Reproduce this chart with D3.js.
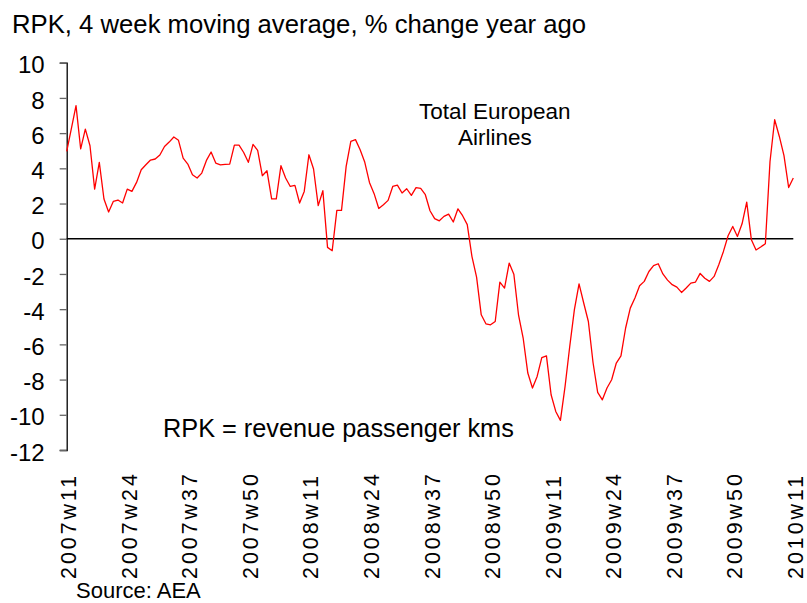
<!DOCTYPE html>
<html>
<head>
<meta charset="utf-8">
<script src="https://cdn.jsdelivr.net/npm/d3@7"></script>
<style>
  html, body { margin: 0; padding: 0; background: #ffffff; }
  svg { display: block; font-family: "Liberation Sans", Arial, sans-serif; }
</style>
</head>
<body>
<svg id="chart" width="807" height="603"></svg>
<script>
// ---- data ----
const startYear = 2007, startWeek = 11, weeksPerYear = 52;
const rpkChange = [
  4.96, 6.26, 7.56, 5.10, 6.23, 5.28, 2.82, 4.34, 2.26, 1.52,
  2.12, 2.20, 2.03, 2.82, 2.69, 3.20, 3.92, 4.20, 4.47, 4.53,
  4.76, 5.24, 5.49, 5.78, 5.59, 4.58, 4.24, 3.64, 3.45, 3.73,
  4.45, 4.93, 4.30, 4.20, 4.22, 4.24, 5.32, 5.32, 4.90, 4.34,
  5.36, 5.02, 3.58, 3.86, 2.26, 2.26, 4.15, 3.45, 2.97, 3.03,
  2.03, 2.69, 4.77, 3.96, 1.88, 2.73, -0.49, -0.68, 1.61, 1.61,
  4.11, 5.53, 5.63, 5.06, 4.34, 3.20, 2.56, 1.72, 1.93, 2.18,
  2.97, 3.05, 2.60, 2.84, 2.46, 2.90, 2.86, 2.50, 1.59, 1.14,
  1.02, 1.27, 1.40, 0.95, 1.70, 1.31, 0.80, -1.00, -2.18, -4.32,
  -4.83, -4.89, -4.70, -2.46, -2.80, -1.38, -2.01, -4.32, -5.64, -7.63,
  -8.48, -7.82, -6.75, -6.65, -8.86, -9.81, -10.32, -8.39, -6.12, -4.03,
  -2.56, -3.65, -4.70, -7.03, -8.73, -9.15, -8.48, -8.01, -7.06, -6.65,
  -5.07, -3.94, -3.37, -2.67, -2.42, -1.86, -1.53, -1.42, -2.00, -2.35,
  -2.61, -2.75, -3.05, -2.80, -2.52, -2.46, -1.97, -2.24, -2.42, -2.14,
  -1.48, -0.72, 0.17, 0.70, 0.13, 0.85, 2.08, -0.06, -0.64, -0.47,
  -0.28, 4.39, 6.76, 5.81, 4.72, 2.91, 3.45
];
// weekly category labels (year + "w" + week number)
const weeks = rpkChange.map((_, i) => {
  const w0 = startWeek - 1 + i;
  return (startYear + Math.floor(w0 / weeksPerYear)) + "w" + (w0 % weeksPerYear + 1);
});
const xTickLabels = ["2007w11","2007w24","2007w37","2007w50","2008w11","2008w24",
  "2008w37","2008w50","2009w11","2009w24","2009w37","2009w50","2010w11"];
const yTicks = [-12, -10, -8, -6, -4, -2, 0, 2, 4, 6, 8, 10];

const titleText = "RPK, 4 week moving average, % change year ago";
const seriesLabel = ["Total European", "Airlines"];
const noteText = "RPK = revenue passenger kms";
const sourceText = "Source: AEA";

// ---- layout ----
const svg = d3.select("#chart");
const plotLeft = 66.7, plotRight = 793.3, plotTop = 62.7, plotBottom = 450;

const x = d3.scalePoint().domain(weeks).range([plotLeft, plotRight]).padding(0);
const y = d3.scaleLinear().domain([-12, 10]).range([plotBottom, plotTop]);

svg.append("rect").attr("width", 807).attr("height", 603).attr("fill", "#fff");

// title
svg.append("text").attr("x", 12).attr("y", 33)
  .attr("font-size", 25.7).attr("fill", "#000").text(titleText);

// y axis
const yAxis = d3.axisLeft(y).tickValues(yTicks).tickSize(7).tickPadding(15)
  .tickFormat(d => String(d));
const yg = svg.append("g").attr("transform", `translate(${plotLeft},0)`).call(yAxis);
yg.select(".domain").attr("stroke", "#000").attr("stroke-width", 1.3);
yg.selectAll(".tick line").attr("stroke", "#666").attr("stroke-width", 1.3);
yg.selectAll(".tick text").attr("font-size", 24).attr("fill", "#000")
  .attr("font-family", "'Liberation Sans', Arial, sans-serif")
  .attr("dy", "0.42em");

// zero line (category axis)
svg.append("line")
  .attr("x1", plotLeft).attr("x2", plotRight)
  .attr("y1", y(0)).attr("y2", y(0))
  .attr("stroke", "#000").attr("stroke-width", 1.3);

// x labels (low position, rotated)
const xAxis = d3.axisBottom(x).tickValues(xTickLabels).tickSize(0).tickPadding(0);
const xg = svg.append("g").attr("transform", `translate(0,579)`).call(xAxis);
xg.select(".domain").remove();
xg.selectAll(".tick text")
  .attr("font-size", 21.4).attr("fill", "#000")
  .attr("font-family", "'Liberation Sans', Arial, sans-serif")
  .attr("letter-spacing", 3)
  .attr("text-anchor", "start")
  .attr("y", 0).attr("dy", 0)
  .attr("transform", "translate(9,0) rotate(-90)");

// series line
const line = d3.line().x((d, i) => x(weeks[i])).y(d => y(d));
svg.append("path").datum(rpkChange)
  .attr("d", line).attr("fill", "none")
  .attr("stroke", "#ff0000").attr("stroke-width", 1.3)
  .attr("stroke-linejoin", "round");

// series label
svg.append("text").attr("x", 494.8).attr("y", 118.5)
  .attr("text-anchor", "middle").attr("font-size", 22.5)
  .selectAll("tspan").data(seriesLabel).join("tspan")
  .attr("x", 494.8).attr("dy", (d, i) => i === 0 ? 0 : 26).text(d => d);

// note
svg.append("text").attr("x", 163).attr("y", 437)
  .attr("font-size", 25.3).attr("fill", "#000").text(noteText);

// source
svg.append("text").attr("x", 76).attr("y", 598)
  .attr("font-size", 22).attr("fill", "#000").text(sourceText);
</script>
</body>
</html>
